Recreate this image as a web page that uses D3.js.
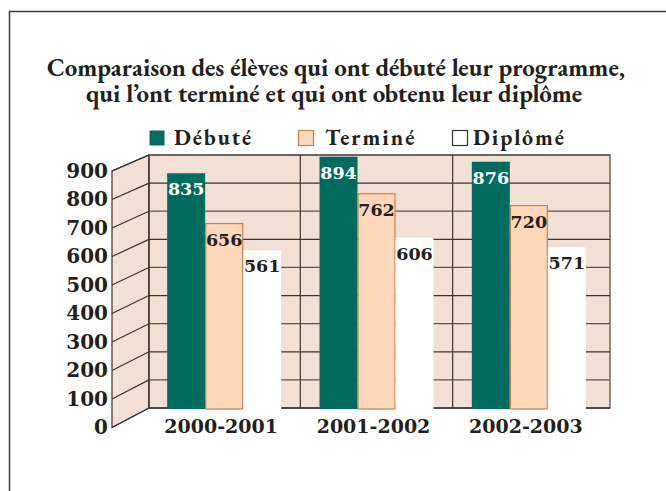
<!DOCTYPE html>
<html><head><meta charset="utf-8">
<script src="https://cdn.jsdelivr.net/npm/d3@7"></script>
<style>
html,body{margin:0;padding:0;background:#fff;}
svg{display:block;}
</style></head>
<body>
<svg id="chart" width="666" height="491"></svg>
<script>
const titleLines = ["Comparaison des élèves qui ont débuté leur programme,", "qui l\u2019ont terminé et qui ont obtenu leur diplôme"];
const categories = ["2000-2001", "2001-2002", "2002-2003"];
const series = ["Débuté", "Terminé", "Diplômé"];
const debute = [835, 894, 876];
const termine = [656, 762, 720];
const diplome = [561, 606, 571];
const yTicks = [0, 100, 200, 300, 400, 500, 600, 700, 800, 900];

const values = [debute, termine, diplome];
const colors = { "Débuté": "#006c60", "Terminé": "#fdd8bb", "Diplômé": "#ffffff" };
const strokes = { "Débuté": "none", "Terminé": "#c98049", "Diplômé": "none" };
const labelColors = { "Débuté": "#ffffff", "Terminé": "#231f20", "Diplômé": "#231f20" };
const wallFill = "#f2e0d5";
const gridCol = "#3a3434";
const serifTitle = '"EB Garamond", "Liberation Serif", serif';
const serifNum = '"DejaVu Serif", serif';

const svg = d3.select("#chart");

// frame
svg.append("path").attr("d", "M9.5,491 L9.5,11.5 L666,11.5")
  .attr("fill", "none").attr("stroke", "#3c3c3c").attr("stroke-width", 1.5);

// title (one text element, two lines)
const title = svg.append("text").attr("text-anchor", "middle")
  .style("font-family", serifTitle).attr("font-weight", "bold").attr("font-size", 24)
  .attr("fill", "#231f20");
const tl1 = title.append("tspan").attr("x", 336).attr("y", 76).text(titleLines[0]);
const w = tl1.node().getComputedTextLength();
const fs = 24 * 578 / w;
title.attr("font-size", fs);
title.append("tspan").attr("x", 334).attr("y", 102).text(titleLines[1]);

// legend
const legendX = d3.scaleOrdinal().domain(series).range([149, 298, 452]);
const lg = svg.append("g").selectAll("g").data(series).join("g")
  .attr("transform", d => `translate(${legendX(d)},130)`);
lg.append("rect").attr("x", 0.5).attr("y", 0.5).attr("width", 15).attr("height", 15)
  .attr("fill", d => colors[d])
  .attr("stroke", d => d === "Débuté" ? "none" : (d === "Terminé" ? "#c98049" : "#333"))
  .attr("stroke-width", 1.2);
lg.append("text").attr("x", d => d === "Diplômé" ? 21 : (d === "Terminé" ? 27 : 25)).attr("y", 15)
  .style("font-family", serifTitle).attr("font-weight", "bold").attr("font-size", 22)
  .attr("letter-spacing", 2).attr("fill", "#231f20").text(d => d);

// scales
const yBack = d3.scaleLinear().domain([0, 900]).range([408, 155]);
const yFront = d3.scaleLinear().domain([0, 900]).range([427.5, 171]);
const xFront = 112, xBack0 = 149, xBack1 = 610;
const x = d3.scaleBand().domain(categories).range([148, 605]);
const xs = d3.scaleBand().domain(series).range([0, 114]);

// side wall
svg.append("path")
  .attr("d", `M${xFront},${yFront(0)} L${xBack0},${yBack(0)} L${xBack0},${yBack(900)} L${xFront},${yFront(900)} Z`)
  .attr("fill", wallFill).attr("stroke", gridCol).attr("stroke-width", 1.2);
svg.append("g").selectAll("line").data(yTicks).join("line")
  .attr("x1", xFront).attr("x2", xBack0)
  .attr("y1", d => yFront(d)).attr("y2", d => yBack(d))
  .attr("stroke", gridCol).attr("stroke-width", 1.2);

// back wall
svg.append("rect").attr("x", xBack0).attr("y", yBack(900))
  .attr("width", xBack1 - xBack0).attr("height", yBack(0) - yBack(900))
  .attr("fill", wallFill).attr("stroke", "#555").attr("stroke-width", 1.3);
svg.append("g").selectAll("line").data(yTicks).join("line")
  .attr("x1", xBack0).attr("x2", xBack1)
  .attr("y1", d => yBack(d)).attr("y2", d => yBack(d))
  .attr("stroke", d => d % 200 === 0 ? gridCol : "#5e5656").attr("stroke-width", 1.3);
svg.append("g").selectAll("line").data(categories.slice(1)).join("line")
  .attr("x1", d => x(d)).attr("x2", d => x(d))
  .attr("y1", yBack(900)).attr("y2", yBack(0))
  .attr("stroke", gridCol).attr("stroke-width", 1.2);
svg.append("line").attr("x1", xBack0).attr("x2", xBack0).attr("y1", yBack(900)).attr("y2", yBack(0))
  .attr("stroke", gridCol).attr("stroke-width", 1.3);

// bars
const barData = [];
categories.forEach((c, i) => series.forEach((s, j) => barData.push({ c, s, v: values[j][i] })));
const off = (x.bandwidth() - 114) / 2;
const bars = svg.append("g").selectAll("g").data(barData).join("g")
  .attr("transform", d => `translate(${x(d.c) + off + xs(d.s)},0)`);
bars.append("rect")
  .attr("x", d => d.s === "Terminé" ? 0.5 : 0)
  .attr("y", d => yBack(d.v))
  .attr("width", d => d.s === "Terminé" ? xs.bandwidth() - 1 : xs.bandwidth())
  .attr("height", d => yBack(0) + 1 - yBack(d.v))
  .attr("fill", d => colors[d.s]).attr("stroke", d => strokes[d.s]).attr("stroke-width", 1.2);
bars.append("text").attr("x", xs.bandwidth() / 2).attr("y", d => yBack(d.v) + 22)
  .attr("text-anchor", "middle").style("font-family", serifNum).attr("font-weight", "bold")
  .attr("font-size", 17.5).attr("fill", d => labelColors[d.s]).text(d => d.v);

// y axis labels
const yAxis = svg.append("g").attr("transform", "translate(108,0)")
  .call(d3.axisLeft(yFront).tickValues(yTicks).tickSize(0).tickPadding(0).tickFormat(d3.format("d")));
yAxis.select(".domain").remove();
yAxis.selectAll("text").style("font-family", serifNum).attr("font-weight", "bold")
  .attr("font-size", 20).attr("fill", "#231f20");

// x axis labels
const xAxis = svg.append("g").attr("transform", `translate(-3,${yBack(0)})`)
  .call(d3.axisBottom(x).tickSize(0).tickPadding(0));
xAxis.select(".domain").remove();
xAxis.selectAll("text").attr("dy", null).attr("y", 25)
  .style("font-family", serifNum).attr("font-weight", "bold")
  .attr("font-size", 19).attr("fill", "#231f20");
</script>
</body></html>
